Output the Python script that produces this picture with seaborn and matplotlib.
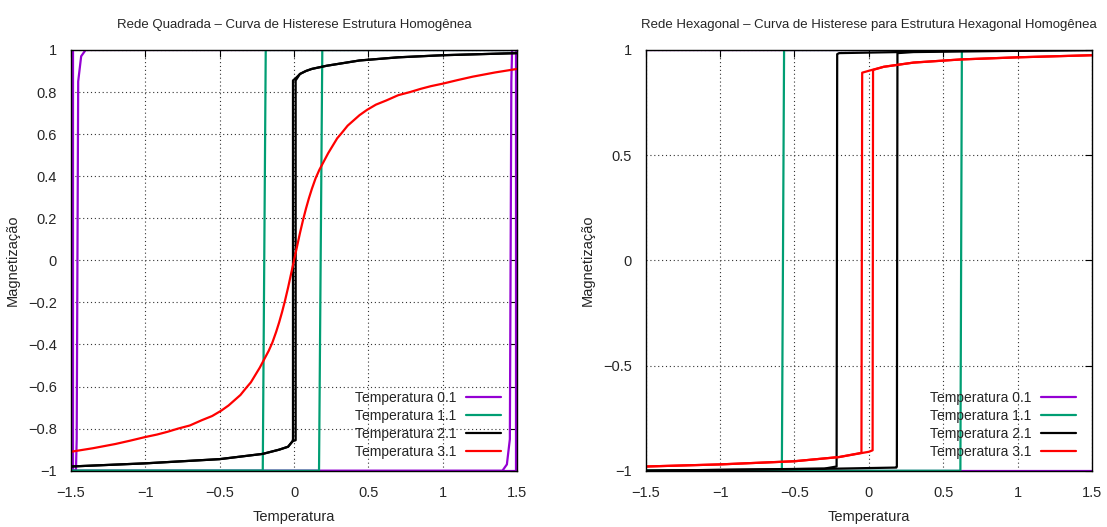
import numpy as np
import pandas as pd
import matplotlib
matplotlib.use("Agg")
import matplotlib.pyplot as plt
from matplotlib.ticker import FuncFormatter, MultipleLocator
import seaborn as sns

# ---------------- data ----------------
temps = ["Temperatura 0.1", "Temperatura 1.1", "Temperatura 2.1", "Temperatura 3.1"]
colors = ["#9400D3", "#009E73", "#000000", "#FF0000"]

# Square lattice (left panel): descending / ascending branches
sq_t01_desc_x = [1.5, -1.40, -1.43, -1.45, -1.455, -1.46, -1.465, -1.5]
sq_t01_desc_y = [1.0, 1.0, 0.97, 0.85, 0.0, -0.85, -1.0, -1.0]
sq_t01_asc_x = [-1.5, 1.40, 1.43, 1.45, 1.455, 1.46, 1.465, 1.5]
sq_t01_asc_y = [-1.0, -1.0, -0.97, -0.85, 0.0, 0.85, 1.0, 1.0]
sq_t01_edge_x = [-1.488, -1.488, 1.488, 1.488]
sq_t01_edge_y = [1.0, -1.0, -1.0, 1.0]

sq_t11_desc_x = [1.5, -0.19, -0.21, -1.5]
sq_t11_desc_y = [1.0, 1.0, -1.0, -1.0]
sq_t11_asc_x = [-1.5, 0.168, 0.19, 1.5]
sq_t11_asc_y = [-1.0, -1.0, 1.0, 1.0]

sq_t21_desc_x = [1.5, 1.0, 0.7, 0.44, 0.22, 0.12, 0.08, 0.04, 0.01, -0.007,
                 -0.007, -0.01, -0.04, -0.1, -0.21, -0.5, -1.0, -1.5]
sq_t21_desc_y = [0.985, 0.975, 0.965, 0.95, 0.925, 0.91, 0.90, 0.886, 0.865, 0.855,
                 -0.85, -0.86, -0.886, -0.90, -0.92, -0.945, -0.965, -0.98]
sq_t21_asc_x = [-1.5, -1.0, -0.5, -0.21, -0.1, -0.04, -0.01, 0.011,
                0.011, 0.04, 0.08, 0.12, 0.22, 0.44, 0.7, 1.0, 1.5]
sq_t21_asc_y = [-0.98, -0.965, -0.945, -0.92, -0.90, -0.886, -0.86, -0.855,
                0.855, 0.886, 0.90, 0.91, 0.925, 0.95, 0.965, 0.975, 0.985]

sq_t31_x = [-1.5, -1.35, -1.2, -1.1, -1.0, -0.92, -0.85, -0.78, -0.7, -0.62,
            -0.55, -0.49, -0.44, -0.4, -0.36, -0.32, -0.29, -0.26, -0.23, -0.2,
            -0.17, -0.145, -0.12, -0.1, -0.08, -0.06, -0.04, -0.02, 0.0,
            0.02, 0.04, 0.06, 0.08, 0.1, 0.12, 0.145, 0.17, 0.2, 0.23,
            0.26, 0.29, 0.32, 0.36, 0.4, 0.44, 0.49, 0.55, 0.62, 0.7,
            0.78, 0.85, 0.92, 1.0, 1.1, 1.2, 1.35, 1.5]
sq_t31_y = [-0.91, -0.893, -0.873, -0.857, -0.84, -0.828, -0.815, -0.80, -0.785, -0.76,
            -0.74, -0.715, -0.69, -0.665, -0.64, -0.605, -0.58, -0.545, -0.51, -0.47,
            -0.43, -0.39, -0.34, -0.295, -0.245, -0.19, -0.13, -0.065, 0.0,
            0.065, 0.13, 0.19, 0.245, 0.295, 0.34, 0.39, 0.43, 0.47, 0.51,
            0.545, 0.58, 0.605, 0.64, 0.665, 0.69, 0.715, 0.74, 0.76, 0.785,
            0.80, 0.815, 0.828, 0.84, 0.857, 0.873, 0.893, 0.91]

# Hexagonal lattice (right panel)
hx_t01_desc_x = [1.5, -1.5]
hx_t01_desc_y = [1.0, 1.0]
hx_t01_asc_x = [-1.5, 1.5]
hx_t01_asc_y = [-1.0, -1.0]

hx_t11_desc_x = [1.5, -0.57, -0.585, -1.5]
hx_t11_desc_y = [1.0, 1.0, -1.0, -1.0]
hx_t11_asc_x = [-1.5, 0.615, 0.625, 1.5]
hx_t11_asc_y = [-1.0, -1.0, 1.0, 1.0]

hx_t21_desc_x = [1.5, 0.5, 0.2, -0.2, -0.213, -0.217, -0.3, -1.5]
hx_t21_desc_y = [1.0, 0.995, 0.99, 0.985, 0.98, -0.98, -0.99, -1.0]
hx_t21_asc_x = [-1.5, -0.2, 0.185, 0.188, 0.192, 0.3, 1.5]
hx_t21_asc_y = [-1.0, -0.99, -0.985, -0.98, 0.985, 0.99, 1.0]

hx_t31_desc_x = [1.5, 1.0, 0.62, 0.3, 0.1, 0.02, -0.045, -0.05, -0.2, -0.5, -1.0, -1.5]
hx_t31_desc_y = [0.975, 0.965, 0.955, 0.94, 0.92, 0.905, 0.892, -0.915, -0.935, -0.955, -0.97, -0.98]
hx_t31_asc_x = [-1.5, -1.0, -0.5, -0.2, 0.0, 0.025, 0.028, 0.1, 0.3, 0.62, 1.0, 1.5]
hx_t31_asc_y = [-0.98, -0.97, -0.955, -0.935, -0.91, -0.903, 0.905, 0.92, 0.94, 0.955, 0.965, 0.975]


def frame(branches):
    rows = []
    for temp, unit, xs, ys in branches:
        for i, (x, y) in enumerate(zip(xs, ys)):
            rows.append({"campo": x, "mag": y, "temp": temp, "ramo": unit, "ordem": i})
    return pd.DataFrame(rows)


square = frame([
    (temps[0], "t01a", sq_t01_desc_x, sq_t01_desc_y),
    (temps[0], "t01b", sq_t01_asc_x, sq_t01_asc_y),
    (temps[0], "t01c", sq_t01_edge_x, sq_t01_edge_y),
    (temps[1], "t11a", sq_t11_desc_x, sq_t11_desc_y),
    (temps[1], "t11b", sq_t11_asc_x, sq_t11_asc_y),
    (temps[2], "t21a", sq_t21_desc_x, sq_t21_desc_y),
    (temps[2], "t21b", sq_t21_asc_x, sq_t21_asc_y),
    (temps[3], "t31a", sq_t31_x, sq_t31_y),
])

hexagonal = frame([
    (temps[0], "t01a", hx_t01_desc_x, hx_t01_desc_y),
    (temps[0], "t01b", hx_t01_asc_x, hx_t01_asc_y),
    (temps[1], "t11a", hx_t11_desc_x, hx_t11_desc_y),
    (temps[1], "t11b", hx_t11_asc_x, hx_t11_asc_y),
    (temps[2], "t21a", hx_t21_desc_x, hx_t21_desc_y),
    (temps[2], "t21b", hx_t21_asc_x, hx_t21_asc_y),
    (temps[3], "t31a", hx_t31_desc_x, hx_t31_desc_y),
    (temps[3], "t31b", hx_t31_asc_x, hx_t31_asc_y),
])

# ---------------- style ----------------
sns.set_theme(style="white")
plt.rcParams["font.family"] = ["Liberation Sans", "DejaVu Sans"]
plt.rcParams["axes.unicode_minus"] = True

fig = plt.figure(figsize=(11.07, 5.27), dpi=100)
ax1 = fig.add_axes([0.0639, 0.1068, 0.4034, 0.7984])
ax2 = fig.add_axes([0.5833, 0.1068, 0.4032, 0.7984])

fmt = FuncFormatter(lambda v, p: ("%g" % round(v, 6)).replace("-", "\u2212"))


def draw(ax, data, ystep, title):
    sns.lineplot(data=data, x="campo", y="mag", hue="temp", units="ramo",
                 estimator=None, sort=False, palette=dict(zip(temps, colors)),
                 hue_order=temps, linewidth=1.6, ax=ax, legend=True)
    ax.set_xlim(-1.5, 1.5)
    ax.set_ylim(-1.0, 1.0)
    ax.xaxis.set_major_locator(MultipleLocator(0.5))
    ax.yaxis.set_major_locator(MultipleLocator(ystep))
    ax.xaxis.set_major_formatter(fmt)
    ax.yaxis.set_major_formatter(fmt)
    ax.grid(True, color="#333333", linestyle=(0, (1, 2.5)), linewidth=0.8)
    ax.set_axisbelow(True)
    ax.tick_params(direction="in", length=5, width=0.8, top=True, right=True,
                   labelsize=10.5, color="black")
    ax.tick_params(axis="x", pad=11)
    ax.tick_params(axis="y", pad=10)
    for s in ax.spines.values():
        s.set_color("black")
        s.set_linewidth(1.0)
    ax.set_xlabel("Temperatura", fontsize=10.5, labelpad=7)
    ax.set_ylabel("Magnetização", fontsize=10.5, labelpad=6)
    ax.set_title(title, fontsize=9.5, pad=16)
    h, l = ax.get_legend_handles_labels()
    ax.legend(h, l, loc="lower right", frameon=False, markerfirst=False,
              fontsize=10, handlelength=2.5, labelspacing=0.28,
              handletextpad=0.7, borderaxespad=0.45, bbox_to_anchor=(0.99, 0.0))


draw(ax1, square, 0.2, "Rede Quadrada \u2013 Curva de Histerese Estrutura Homogênea")
draw(ax2, hexagonal, 0.5, "Rede Hexagonal \u2013 Curva de Histerese para Estrutura Hexagonal Homogênea")

fig.savefig("out.png", dpi=100)
